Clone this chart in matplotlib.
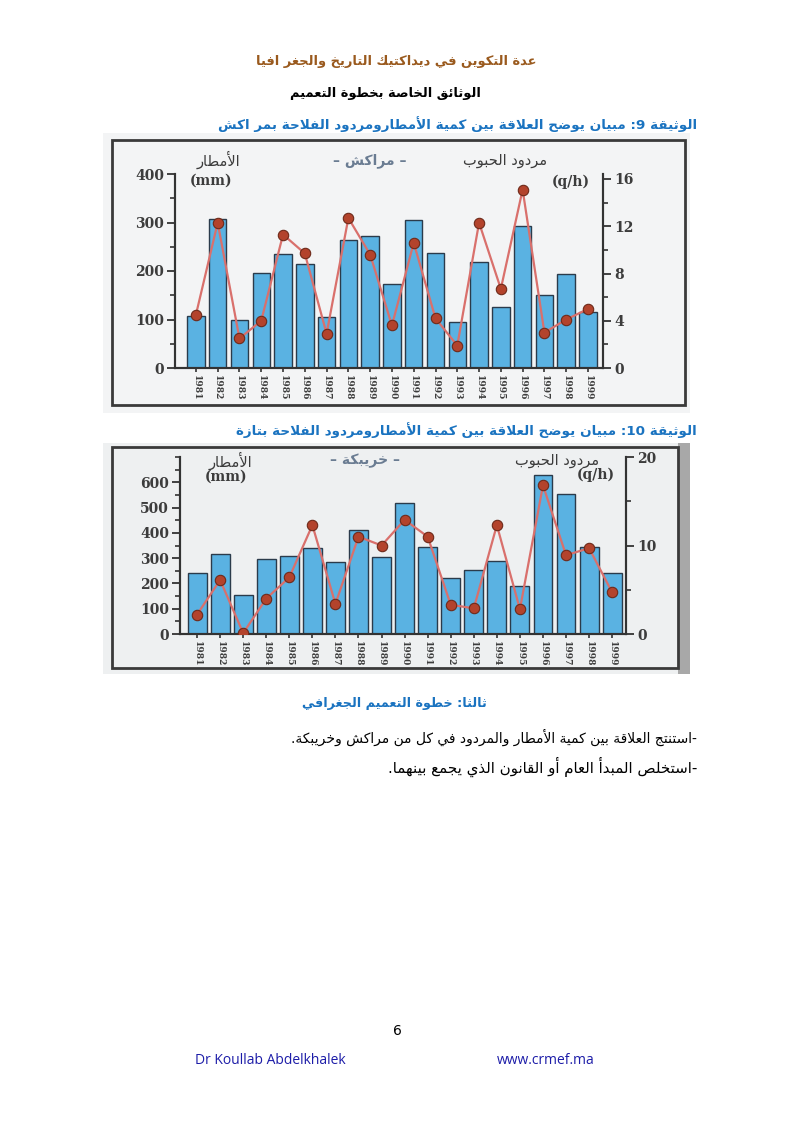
import matplotlib
matplotlib.use("Agg")
import matplotlib.pyplot as plt
from matplotlib.patches import Rectangle
from matplotlib.ticker import MultipleLocator

# ---------------- data ----------------
years = list(range(1981, 2000))
marrakech_rain = [108, 307, 100, 196, 235, 214, 105, 264, 272, 173, 305, 237, 95, 218, 126, 293, 150, 194, 115]
marrakech_yield = [4.5, 12.3, 2.5, 4.0, 11.3, 9.7, 2.9, 12.7, 9.6, 3.6, 10.6, 4.2, 1.9, 12.3, 6.7, 15.1, 3.0, 4.1, 5.0]
khouribga_rain = [240, 315, 155, 295, 310, 340, 285, 410, 305, 520, 345, 220, 255, 290, 190, 630, 555, 345, 240]
khouribga_yield = [2.2, 6.1, 0.1, 4.0, 6.4, 12.3, 3.4, 11.0, 10.0, 12.9, 11.0, 3.3, 2.9, 12.3, 2.8, 16.8, 8.9, 9.7, 4.7]
rain_ticks_1 = [0, 100, 200, 300, 400]
yield_ticks_1 = [0, 4, 8, 12, 16]
rain_ticks_2 = [0, 100, 200, 300, 400, 500, 600]
yield_ticks_2 = [0, 10, 20]

# ---------------- simple Arabic shaping + RTL ----------------
_DUAL = {'ئ': 0xFE89, 'ب': 0xFE8F, 'ت': 0xFE95, 'ث': 0xFE99, 'ج': 0xFE9D, 'ح': 0xFEA1,
         'خ': 0xFEA5, 'س': 0xFEB1, 'ش': 0xFEB5, 'ص': 0xFEB9, 'ض': 0xFEBD, 'ط': 0xFEC1,
         'ظ': 0xFEC5, 'ع': 0xFEC9, 'غ': 0xFECD, 'ف': 0xFED1, 'ق': 0xFED5, 'ك': 0xFED9,
         'ل': 0xFEDD, 'م': 0xFEE1, 'ن': 0xFEE5, 'ه': 0xFEE9, 'ي': 0xFEF1}
_RIGHT = {'آ': 0xFE81, 'أ': 0xFE83, 'ؤ': 0xFE85, 'إ': 0xFE87, 'ا': 0xFE8D, 'ة': 0xFE93,
          'د': 0xFEA9, 'ذ': 0xFEAB, 'ر': 0xFEAD, 'ز': 0xFEAF, 'و': 0xFEED, 'ى': 0xFEEF}
_LAMALEF = {'آ': 0xFEF5, 'أ': 0xFEF7, 'إ': 0xFEF9, 'ا': 0xFEFB}


def _is_joiner(c):
    return c in _DUAL or c in _RIGHT or c == 'LA'


def ar(text):
    toks = []
    i = 0
    while i < len(text):
        c = text[i]
        if c == 'ل' and i + 1 < len(text) and text[i + 1] in _LAMALEF:
            toks.append(('LA', text[i + 1]))
            i += 2
        else:
            toks.append((c, None))
            i += 1
    out = []
    for k, (c, extra) in enumerate(toks):
        prev = toks[k - 1][0] if k > 0 else None
        nxt = toks[k + 1][0] if k + 1 < len(toks) else None
        pj = prev in _DUAL
        if c == 'LA':
            base = _LAMALEF[extra]
            out.append(chr(base + 1 if pj else base))
        elif c in _DUAL:
            nj = nxt is not None and _is_joiner(nxt)
            base = _DUAL[c]
            if pj and nj:
                out.append(chr(base + 3))
            elif pj:
                out.append(chr(base + 1))
            elif nj:
                out.append(chr(base + 2))
            else:
                out.append(chr(base))
        elif c in _RIGHT:
            base = _RIGHT[c]
            out.append(chr(base + 1 if pj else base))
        elif c == 'ء':
            out.append(chr(0xFE80))
        else:
            out.append(c)
    # visual order: reverse, keep digit / latin runs in LTR order
    rev = out[::-1]
    res = []
    run = []
    for ch in rev:
        if ch.isascii() and ch.isalnum():
            run.append(ch)
        else:
            if run:
                res.extend(run[::-1])
                run = []
            res.append(ch)
    if run:
        res.extend(run[::-1])
    return ''.join(res)


# ---------------- figure ----------------
W, H = 794, 1123
fig = plt.figure(figsize=(W / 100, H / 100), dpi=100)
fig.patch.set_facecolor('white')


def fx(x):
    return x / W


def fy(y):
    return 1 - y / H


def rect(x0, y0, x1, y1, **kw):
    fig.patches.append(Rectangle((fx(x0), fy(y1)), (x1 - x0) / W, (y1 - y0) / H,
                                 transform=fig.transFigure, **kw))


AR = ['DejaVu Sans']
BLUE = '#1a73c0'

# header texts
fig.text(fx(396), fy(62), ar('عدة التكوين في ديداكتيك التاريخ والجغر افيا'), ha='center', va='center',
         fontsize=9.4, color='#9a5a1e', family=AR, fontweight='bold')
fig.text(fx(385), fy(93), ar('الوثائق الخاصة بخطوة التعميم'), ha='center', va='center',
         fontsize=9.4, color='black', family=AR, fontweight='bold')
fig.text(fx(697), fy(124), ar('الوثيقة 9: مبيان يوضح العلاقة بين كمية الأمطارومردود الفلاحة بمر اكش'),
         ha='right', va='center', fontsize=9.7, color=BLUE, family=AR, fontweight='bold')
fig.text(fx(697), fy(430), ar('الوثيقة 10: مبيان يوضح العلاقة بين كمية الأمطارومردود الفلاحة بتازة'),
         ha='right', va='center', fontsize=9.7, color=BLUE, family=AR, fontweight='bold')
fig.text(fx(487), fy(704), ar('ثالثا: خطوة التعميم الجغرافي'), ha='right', va='center',
         fontsize=9.2, color=BLUE, family=AR, fontweight='bold')
fig.text(fx(697), fy(737), ar('-استنتج العلاقة بين كمية الأمطار والمردود في كل من مراكش وخريبكة.'),
         ha='right', va='center', fontsize=10, color='black', family=AR)
fig.text(fx(697), fy(767), ar('-استخلص المبدأ العام أو القانون الذي يجمع بينهما.'),
         ha='right', va='center', fontsize=10.8, color='black', family=AR)
fig.text(fx(397), fy(1031), '6', ha='center', va='center', fontsize=10, color='black')
fig.text(fx(195), fy(1060), 'Dr Koullab Abdelkhalek', ha='left', va='center', fontsize=10,
         color='#1c1ca8', family=['Open Sans'])
fig.text(fx(497), fy(1060), 'www.crmef.ma', ha='left', va='center', fontsize=10,
         color='#1c1ca8', family=['Open Sans'])

# scanned image backgrounds
rect(103, 133, 690, 413, facecolor='#f3f4f5', edgecolor='none', zorder=0)
rect(112, 140, 685, 405, facecolor='none', edgecolor='#3a3a3a', lw=2, zorder=1)
rect(103, 443, 690, 674, facecolor='#eef0f1', edgecolor='none', zorder=0)
rect(678, 443, 690, 674, facecolor='#a8a8a8', edgecolor='none', zorder=0)
rect(112, 447, 678, 668, facecolor='none', edgecolor='#3a3a3a', lw=2, zorder=1)

TXT = '#3c3c3c'
SERIF = ['DejaVu Serif']
BAR_C = '#5ab2e2'
BAR_E = '#2b3b4b'
LINE_C = '#d9706c'
MK_C = '#b3432c'
MK_E = '#6e2a1a'


def draw_chart(left, right, bottom, top, rain, yld, rticks, yticks, rmax, ymax,
               xl_before, xl_after, bw, rminor, yminor):
    ax = fig.add_axes([fx(left), fy(bottom), (right - left) / W, (bottom - top) / H], zorder=2)
    ax.patch.set_alpha(0)
    ax.bar(years, rain, width=bw, color=BAR_C, edgecolor=BAR_E, linewidth=1.0, zorder=2)
    ax.set_xlim(years[0] - xl_before, years[-1] + xl_after)
    ax.set_ylim(0, rmax)
    ax.set_yticks(rticks)
    ax.yaxis.set_minor_locator(MultipleLocator(rminor))
    ax.set_xticks(years)
    ax.set_xticklabels([str(y) for y in years], rotation=270, fontsize=6.5, family=SERIF,
                       color=TXT, fontweight='bold')
    ax.tick_params(axis='y', which='major', length=6, width=1.3, colors='#333', labelsize=10,
                   labelcolor=TXT, pad=2)
    ax.tick_params(axis='y', which='minor', length=3.5, width=1.2, colors='#333')
    ax.tick_params(axis='x', length=3, width=1.2, colors='#333', pad=2, labelcolor=TXT)
    for lab in ax.get_yticklabels():
        lab.set_family(SERIF)
        lab.set_fontweight('bold')
    ax.spines['top'].set_visible(False)
    for s in ['left', 'right', 'bottom']:
        ax.spines[s].set_color('#333')
        ax.spines[s].set_linewidth(1.5)

    ax2 = ax.twinx()
    ax2.set_zorder(3)
    ax2.plot(years, yld, color=LINE_C, lw=1.6, marker='o', markersize=7.5,
             markerfacecolor=MK_C, markeredgecolor=MK_E, markeredgewidth=0.8, zorder=3)
    ax2.set_ylim(0, ymax)
    ax2.set_yticks(yticks)
    ax2.yaxis.set_minor_locator(MultipleLocator(yminor))
    ax2.tick_params(axis='y', which='major', length=6, width=1.3, colors='#333', labelsize=10,
                    labelcolor=TXT, pad=2)
    ax2.tick_params(axis='y', which='minor', length=3.5, width=1.2, colors='#333')
    for lab in ax2.get_yticklabels():
        lab.set_family(SERIF)
        lab.set_fontweight('bold')
    ax2.spines['top'].set_visible(False)
    for s in ['left', 'right', 'bottom']:
        ax2.spines[s].set_color('#333')
        ax2.spines[s].set_linewidth(1.5)
    return ax, ax2


draw_chart(175, 603, 368, 174, marrakech_rain, marrakech_yield, rain_ticks_1, yield_ticks_1,
           400, 16 * 194 / 189, 0.96, 0.69, 0.8, 50, 2)
draw_chart(180, 626, 634, 457, khouribga_rain, khouribga_yield, rain_ticks_2, yield_ticks_2,
           700, 20, 0.74, 0.6, 0.82, 50, 5)

# chart labels (chart 1)
fig.text(fx(218), fy(160), ar('الأمطار'), ha='center', va='center', fontsize=10.5, color=TXT, family=AR)
fig.text(fx(190), fy(181), '(mm)', ha='left', va='center', fontsize=10, color=TXT, family=SERIF,
         fontweight='bold')
fig.text(fx(370), fy(161), '– ' + ar('مراكش') + ' –', ha='center', va='center', fontsize=10,
         color='#6a7c92', family=AR, fontweight='bold')
fig.text(fx(505), fy(160), ar('مردود الحبوب'), ha='center', va='center', fontsize=10.5, color=TXT,
         family=AR)
fig.text(fx(590), fy(182), '(q/h)', ha='right', va='center', fontsize=10, color=TXT, family=SERIF,
         fontweight='bold')

# chart labels (chart 2)
fig.text(fx(230), fy(461), ar('الأمطار'), ha='center', va='center', fontsize=10.5, color=TXT, family=AR)
fig.text(fx(205), fy(477), '(mm)', ha='left', va='center', fontsize=10, color=TXT, family=SERIF,
         fontweight='bold')
fig.text(fx(365), fy(461), '– ' + ar('خريبكة') + ' –', ha='center', va='center', fontsize=10,
         color='#6a7c92', family=AR, fontweight='bold')
fig.text(fx(557), fy(460), ar('مردود الحبوب'), ha='center', va='center', fontsize=10.5, color=TXT,
         family=AR)
fig.text(fx(615), fy(475), '(q/h)', ha='right', va='center', fontsize=10, color=TXT, family=SERIF,
         fontweight='bold')

fig.savefig('out.png', dpi=100, facecolor='white')
